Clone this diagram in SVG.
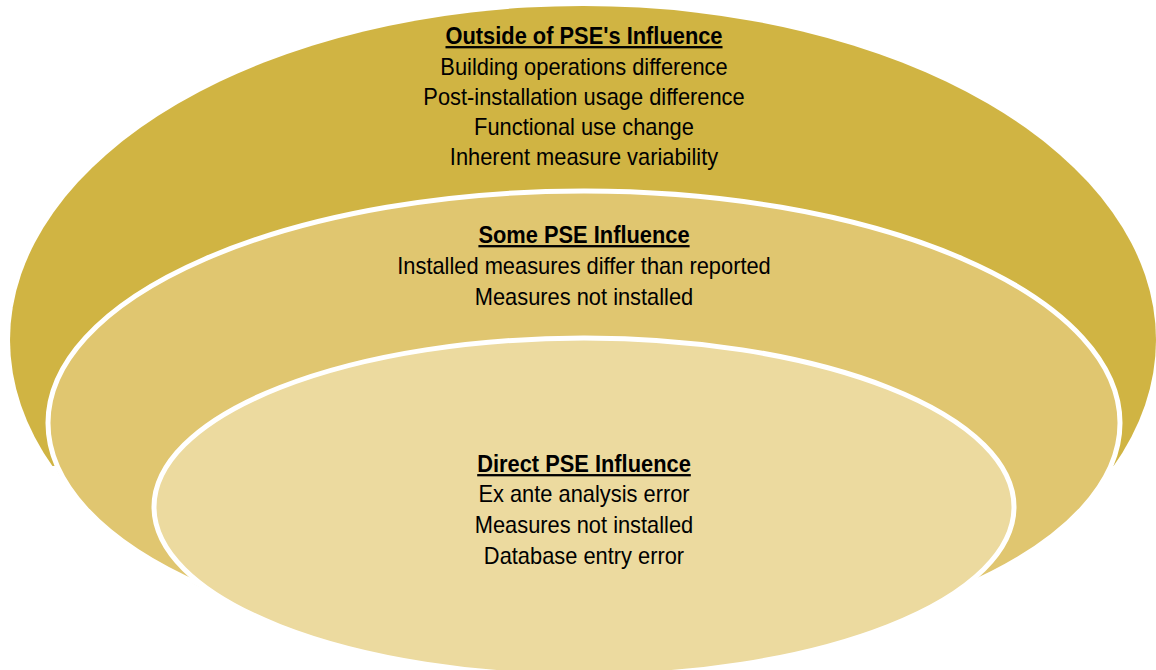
<svg xmlns="http://www.w3.org/2000/svg" width="1156" height="670" viewBox="0 0 1156 670">
  <defs>
    <!-- the outer band only shows above the point where it meets the middle band -->
    <clipPath id="outerClip">
      <rect x="0" y="0" width="1156" height="466"/>
      <ellipse cx="584" cy="423" rx="538" ry="234"/>
    </clipPath>
  </defs>
  <style>
    .ring { stroke: #ffffff; stroke-width: 5; }
    .lbl { font-family: "Liberation Sans", Arial, sans-serif; font-size: 23px; fill: #000000; text-anchor: middle; }
    .head { font-weight: bold; text-decoration: underline; }
  </style>
  <rect width="1156" height="670" fill="#ffffff"/>

  <!-- outermost band -->
  <g id="outside">
    <ellipse cx="583" cy="340" rx="573" ry="334" fill="#D0B443" clip-path="url(#outerClip)"/>
    <g transform="translate(584,0) scale(0.95,1)">
      <text class="lbl head" x="0" y="44">Outside of PSE's Influence</text>
      <text class="lbl" x="0" y="75">Building operations difference</text>
      <text class="lbl" x="0" y="105">Post-installation usage difference</text>
      <text class="lbl" x="0" y="135">Functional use change</text>
      <text class="lbl" x="0" y="165">Inherent measure variability</text>
    </g>
  </g>

  <!-- middle band -->
  <g id="some">
    <ellipse class="ring" cx="584" cy="423" rx="536" ry="232" fill="#E0C670"/>
    <g transform="translate(584,0) scale(0.95,1)">
      <text class="lbl head" x="0" y="243">Some PSE Influence</text>
      <text class="lbl" x="0" y="274">Installed measures differ than reported</text>
      <text class="lbl" x="0" y="305">Measures not installed</text>
    </g>
  </g>

  <!-- inner core -->
  <g id="direct">
    <ellipse class="ring" cx="584" cy="507" rx="430" ry="169" fill="#ECDA9F"/>
    <g transform="translate(584,0) scale(0.95,1)">
      <text class="lbl head" x="0" y="472">Direct PSE Influence</text>
      <text class="lbl" x="0" y="502">Ex ante analysis error</text>
      <text class="lbl" x="0" y="533">Measures not installed</text>
      <text class="lbl" x="0" y="564">Database entry error</text>
    </g>
  </g>

  <g id="connectors"/>
</svg>
